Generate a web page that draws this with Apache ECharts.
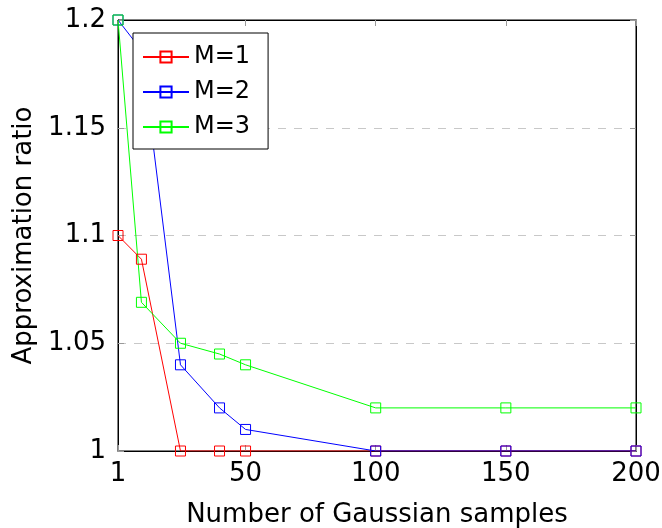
<!DOCTYPE html>
<html>
<head>
<meta charset="utf-8">
<script src="https://cdn.jsdelivr.net/npm/echarts@6/dist/echarts.min.js"></script>
<style>
  html, body { margin: 0; padding: 0; background: #fff; }
  #chart { width: 662px; height: 528px; }
</style>
</head>
<body>
<div id="chart"></div>
<script>
// 数据
const samples = [1, 10, 25, 40, 50, 100, 150, 200];
const m1 = [1.1, 1.089, 1.0, 1.0, 1.0, 1.0, 1.0, 1.0];
const m2 = [1.2, 1.186, 1.04, 1.02, 1.01, 1.0, 1.0, 1.0];
const m3 = [1.2, 1.069, 1.05, 1.045, 1.04, 1.02, 1.02, 1.02];
const seriesNames = ['M=1', 'M=2', 'M=3'];
const seriesColors = ['#ff0000', '#0000ff', '#00ff00'];
const xTicks = [1, 50, 100, 150, 200];

const font = 'DejaVu Sans';

function makeSeries(name, values, color) {
    return {
        name: name,
        type: 'line',
        data: samples.map((x, i) => [x, values[i]]),
        symbol: 'rect',
        symbolSize: 10,
        showSymbol: true,
        animation: false,
        lineStyle: { color: color, width: 1 },
        itemStyle: { color: 'rgba(0,0,0,0)', borderColor: color, borderWidth: 1 },
        emphasis: { disabled: true }
    };
}

const chart = echarts.init(document.getElementById('chart'));
const tickStyle = { show: true, inside: true, length: 6, lineStyle: { color: '#999' } };

const option = {
    backgroundColor: '#fff',
    grid: {
        left: 118, right: 26, top: 20, bottom: 77,
        outerBoundsMode: 'none',
        containLabel: false,
        show: true, borderColor: '#000', borderWidth: 1
    },
    legend: {
        data: seriesNames,
        orient: 'vertical',
        left: 133,
        top: 33,
        padding: [12, 18, 10, 9],
        itemGap: 11,
        itemWidth: 46,
        itemHeight: 14,
        itemTextGap: 6,
        backgroundColor: '#fff',
        borderColor: '#000',
        borderWidth: 1,
        textStyle: { fontFamily: font, fontSize: 24, color: '#000', lineHeight: 24 }
    },
    xAxis: [{
        type: 'value',
        min: 1,
        max: 200,
        name: 'Number of Gaussian samples',
        nameLocation: 'middle',
        nameGap: 51,
        nameTextStyle: { fontFamily: font, fontSize: 26, color: '#000' },
        axisLine: { lineStyle: { color: '#000' } },
        axisTick: Object.assign({ customValues: xTicks }, tickStyle),
        axisLabel: { customValues: xTicks, fontFamily: font, fontSize: 26, color: '#000', margin: 10 },
        splitLine: { show: false }
    }, {
        type: 'value',
        position: 'top',
        min: 1,
        max: 200,
        axisLine: { lineStyle: { color: '#000' } },
        axisTick: Object.assign({ customValues: xTicks }, tickStyle),
        axisLabel: { show: false },
        splitLine: { show: false }
    }],
    yAxis: [{
        type: 'value',
        min: 1,
        max: 1.2,
        interval: 0.05,
        name: 'Approximation ratio',
        nameLocation: 'middle',
        nameGap: 78,
        nameTextStyle: { fontFamily: font, fontSize: 26, color: '#000' },
        axisLine: { show: true, lineStyle: { color: '#000' } },
        axisTick: tickStyle,
        axisLabel: { fontFamily: font, fontSize: 26, color: '#000', margin: 12 },
        splitLine: { show: true, lineStyle: { color: '#c8c8c8', type: [8, 8] } }
    }, {
        type: 'value',
        position: 'right',
        min: 1,
        max: 1.2,
        interval: 0.05,
        axisLine: { show: true, lineStyle: { color: '#000' } },
        axisTick: tickStyle,
        axisLabel: { show: false },
        splitLine: { show: false }
    }],
    series: [
        makeSeries(seriesNames[0], m1, seriesColors[0]),
        makeSeries(seriesNames[1], m2, seriesColors[1]),
        makeSeries(seriesNames[2], m3, seriesColors[2])
    ]
};

chart.setOption(option);
</script>
</body>
</html>
